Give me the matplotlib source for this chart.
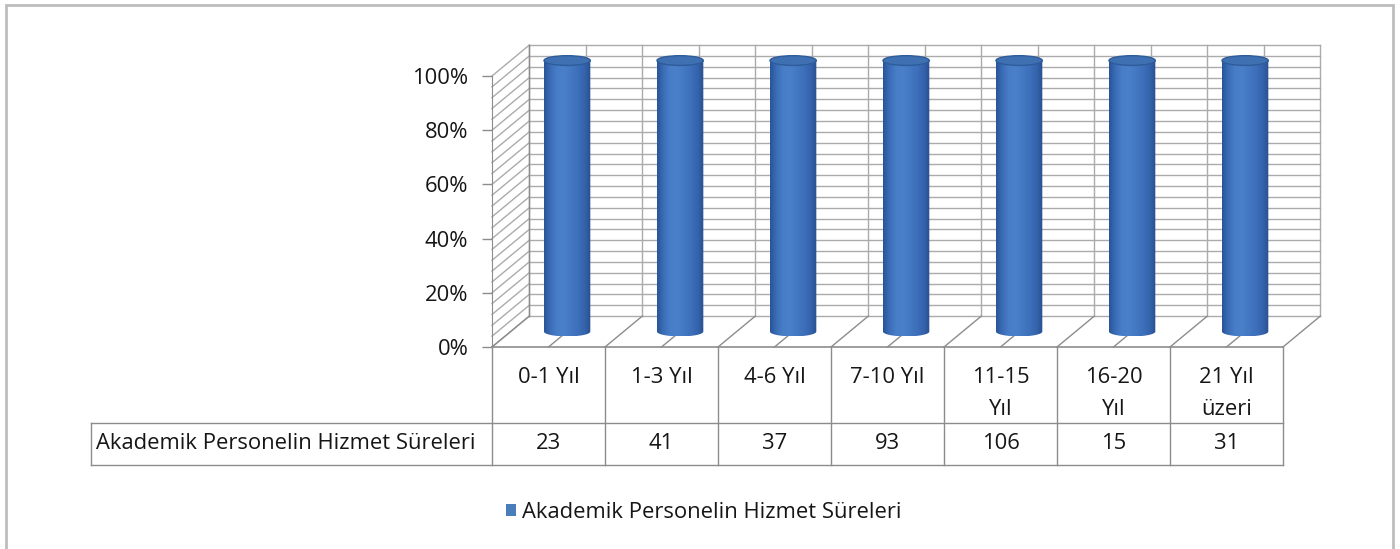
import matplotlib
matplotlib.use("Agg")
import matplotlib.pyplot as plt
import numpy as np
from matplotlib.patches import Ellipse, PathPatch, Patch, Rectangle
from matplotlib.path import Path

plt.rcParams["font.family"] = ["Open Sans", "DejaVu Sans"]

categories = ["0-1 Yıl", "1-3 Yıl", "4-6 Yıl", "7-10 Yıl", "11-15\nYıl", "16-20\nYıl", "21 Yıl\nüzeri"]
counts = [23, 41, 37, 93, 106, 15, 31]
series_name = "Akademik Personelin Hizmet Süreleri"
yticks = [0, 20, 40, 60, 80, 100]

# single series in a 100% stacked chart -> every column is 100%
counts_arr = np.array(counts, dtype=float)
pct = counts_arr / counts_arr * 100

W, H = 1400, 549
# depth of the 3d box in data units
DX, DY = 0.33, 11.4
YTOP = 100 + DY + 3

fig = plt.figure(figsize=(W / 100, H / 100), dpi=100)
ax_h = 271 * YTOP / 100
ax = fig.add_axes([492 / W, 1 - 347 / H, 791 / W, ax_h / H])
n = len(categories)

grid_c = "#ababab"
frame_c = "#8c8c8c"
text_c = "#161616"
fs = 15.8

# back wall, side wall and floor
for g in np.arange(0, 101, 4):
    ax.plot([DX, n + DX], [g + DY, g + DY], color=grid_c, lw=1.0, clip_on=False, zorder=1)
    ax.plot([0, DX], [g, g + DY], color=grid_c, lw=1.0, clip_on=False, zorder=1)
for k in np.arange(0, n + 0.01, 0.5):
    ax.plot([k + DX, k + DX], [DY, 100 + DY], color=grid_c, lw=1.0, clip_on=False, zorder=1)
    ax.plot([k, k + DX], [0, DY], color=frame_c, lw=1.0, clip_on=False, zorder=1)
ax.plot([DX, DX], [DY, 100 + DY], color=frame_c, lw=1.0, clip_on=False, zorder=1)
ax.plot([0, n], [0, 0], color=frame_c, lw=1.2, clip_on=False, zorder=1)

# cylinders
cw, eh = 0.41, 3.6
grad = np.array([
    [40, 84, 152], [60, 110, 184], [72, 126, 200], [74, 128, 202],
    [68, 120, 195], [62, 112, 187], [54, 100, 174], [40, 80, 145],
]) / 255.0
xs = np.linspace(0, 1, 200)
strip = np.stack([np.interp(xs, np.linspace(0, 1, len(grad)), grad[:, j]) for j in range(3)], axis=-1)
strip = strip[np.newaxis, :, :]
th = np.linspace(0, -np.pi, 60)
for i, p in enumerate(pct):
    c = i + 0.5 + DX / 2
    base = DY / 2
    top = p + DY / 2
    verts = [(c - cw / 2, top), (c + cw / 2, top)]
    verts += [(c + cw / 2 * np.cos(t), base + eh / 2 * np.sin(t)) for t in th]
    verts += [(c - cw / 2, top)]
    body = PathPatch(Path(verts), facecolor="none", edgecolor="none", transform=ax.transData)
    ax.add_patch(body)
    im = ax.imshow(strip, extent=[c - cw / 2, c + cw / 2, base - eh / 2, top],
                   aspect="auto", zorder=3, interpolation="bilinear")
    im.set_clip_path(body)
    ax.add_patch(Ellipse((c, top), cw, eh, facecolor="#3f70b2", edgecolor="#2e5c9a",
                         lw=1.0, zorder=4, clip_on=False))
ax.set_xlim(0, n)
ax.set_ylim(0, YTOP)

# value axis
for s in ["top", "right", "bottom"]:
    ax.spines[s].set_visible(False)
ax.spines["left"].set_color(frame_c)
ax.spines["left"].set_bounds(0, 100)
ax.set_xticks([])
ax.set_yticks(yticks)
ax.set_yticklabels([f"{v}%" for v in yticks], fontsize=fs, color=text_c)
ax.tick_params(axis="y", length=7, width=1, color=frame_c, pad=10)
ax.patch.set_visible(False)

# data table
r1, r2 = -28.0, -43.5
left = -3.55
lk = dict(color=frame_c, lw=1.0, clip_on=False)
ax.plot([0, 0], [0, r2], **lk)
for k in range(1, n + 1):
    ax.plot([k, k], [0, r2], **lk)
ax.plot([left, n], [r1, r1], **lk)
ax.plot([left, n], [r2, r2], **lk)
ax.plot([left, left], [r1, r2], **lk)
for i, (lab, v) in enumerate(zip(categories, counts)):
    for j, line in enumerate(lab.split("\n")):
        ax.text(i + 0.5, -11.2 - 11.8 * j, line, ha="center", va="center",
                fontsize=fs, color=text_c, clip_on=False)
    ax.text(i + 0.5, (r1 + r2) / 2, str(v), ha="center", va="center",
            fontsize=fs, color=text_c, clip_on=False)
ax.text(left + 0.045, (r1 + r2) / 2, series_name, ha="left", va="center",
        fontsize=fs, color=text_c, clip_on=False)

# legend
fig.legend(handles=[Patch(facecolor="#4a7ebb", edgecolor="none", label=series_name)],
           loc="center left", bbox_to_anchor=(506 / W, 1 - 512 / H), frameon=False,
           fontsize=fs, handlelength=0.45, handleheight=0.45, handletextpad=0.3,
           borderpad=0, borderaxespad=0, labelcolor=text_c)

# outer chart border
fig.add_artist(Rectangle((6 / W, -0.02), 1387 / W, 1.02 - 5 / H, transform=fig.transFigure,
                         fill=False, edgecolor="#bdbdbd", lw=2))

fig.savefig("out.png", dpi=100)
